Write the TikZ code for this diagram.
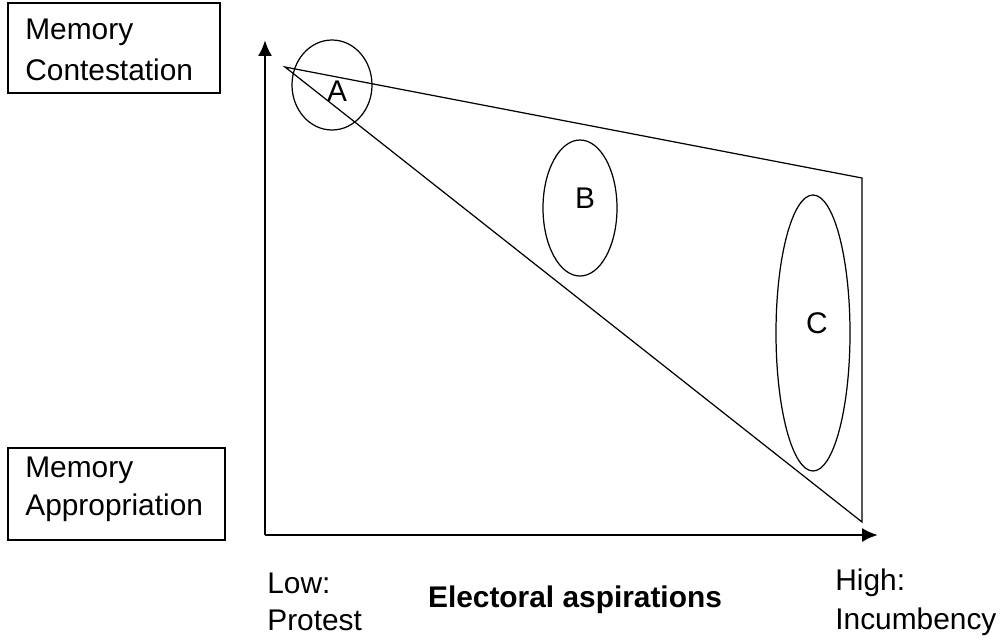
\documentclass[tikz,border=0pt]{standalone}
\usepackage{fontspec}
\setmainfont{Liberation Sans}
\usetikzlibrary{arrows.meta}
\begin{document}
\begin{tikzpicture}[x=0.02cm,y=-0.02cm,
  lbl/.style={font=\fontsize{17pt}{20pt}\selectfont,inner sep=0pt,anchor=west},
  ax/.style={line width=1.6pt,-{Latex[length=9pt,width=8pt]}},
  ln/.style={line width=0.7pt}]
\useasboundingbox (0,0) rectangle (1000,643);
\draw[ln] (8,3) rectangle (220,93);
\draw[ln] (8,448) rectangle (225,540);
\node[lbl] (t1) at (25,32) {Memory};
\node[lbl] (t2) at (25,70) {Contestation};
\node[lbl] (t3) at (25,470) {Memory};
\node[lbl] (t4) at (25,508) {Appropriation};
\coordinate (o) at (265,535);
\coordinate (ytop) at (265,40);
\coordinate (xend) at (878,535);
\draw[ax] (o) -- (ytop);
\draw[ax] (o) -- (xend);
\coordinate (p1) at (285,67);
\coordinate (p2) at (862,178);
\coordinate (p3) at (862,522);
\draw[ln] (p1) -- (p2) -- (p3) -- cycle;
\draw[ln] (332,85) ellipse [x radius=40,y radius=45];
\draw[ln] (580,208) ellipse [x radius=37,y radius=68];
\draw[ln] (813,333) ellipse [x radius=37,y radius=138];
\node[lbl,anchor=center] (A) at (337,91) {A};
\node[lbl,anchor=center] (B) at (585,198) {B};
\node[lbl,anchor=center] (C) at (817,323) {C};
\node[lbl] (lo1) at (267,583) {Low:};
\node[lbl] (lo2) at (267,620) {Protest};
\node[lbl,anchor=center,font=\fontsize{17pt}{20pt}\selectfont\bfseries] (ea2) at (575,600) {Electoral aspirations};
\node[lbl] (hi1) at (835,583) {High:};
\node[lbl] (hi2) at (835,622) {Incumbency};
\end{tikzpicture}
\end{document}
